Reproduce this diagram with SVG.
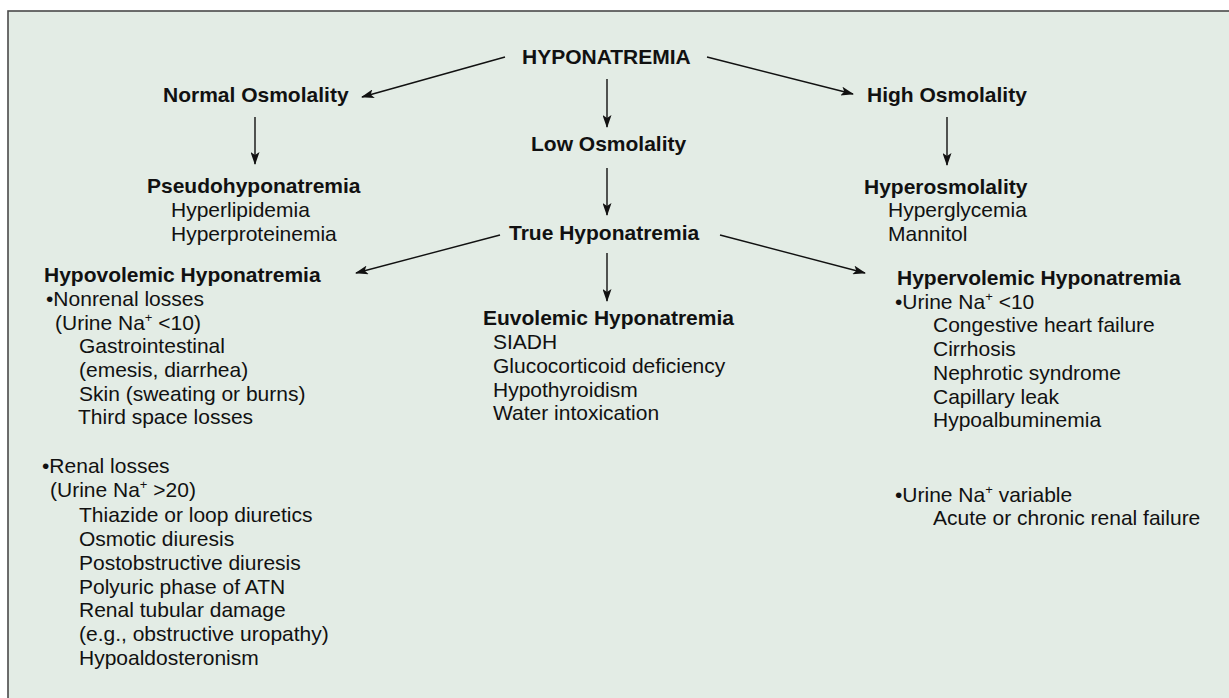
<svg xmlns="http://www.w3.org/2000/svg" width="1229" height="698" viewBox="0 0 1229 698">
<style>
text{font-family:"Liberation Sans",Arial,Helvetica,sans-serif;font-size:21px;fill:#111}
.b{font-weight:bold}
.sup{font-size:13px}
.conn line{stroke:#111;stroke-width:1.4;fill:none}
</style>
<defs>
<marker id="ah" markerWidth="13" markerHeight="9" refX="12" refY="4.5" orient="auto" markerUnits="userSpaceOnUse">
<path d="M0,0 L13,4.5 L0,9 L3,4.5 Z" fill="#111"/>
</marker>
</defs>
<rect x="0" y="0" width="1229" height="698" fill="#ffffff"/>
<rect x="8" y="11" width="1240" height="700" fill="#e3ece5" stroke="#4a4a4a" stroke-width="1.6"/>
<g class="conn">
<line x1="505" y1="57" x2="362" y2="97" marker-end="url(#ah)"/>
<line x1="707" y1="57" x2="853" y2="94" marker-end="url(#ah)"/>
<line x1="607" y1="79" x2="607" y2="127" marker-end="url(#ah)"/>
<line x1="607" y1="168" x2="607" y2="215" marker-end="url(#ah)"/>
<line x1="255" y1="117" x2="255" y2="164" marker-end="url(#ah)"/>
<line x1="947" y1="117" x2="947" y2="165" marker-end="url(#ah)"/>
<line x1="500" y1="235" x2="356" y2="273" marker-end="url(#ah)"/>
<line x1="720" y1="235" x2="865" y2="273" marker-end="url(#ah)"/>
<line x1="607" y1="253" x2="607" y2="301" marker-end="url(#ah)"/>
</g>
<g id="hyponatremia"><text class="b" x="522" y="64">HYPONATREMIA</text></g>
<g id="normal-osmolality"><text class="b" x="163" y="102">Normal Osmolality</text></g>
<g id="high-osmolality"><text class="b" x="867" y="102">High Osmolality</text></g>
<g id="low-osmolality"><text class="b" x="531" y="151">Low Osmolality</text></g>
<g id="true-hyponatremia"><text class="b" x="509" y="240">True Hyponatremia</text></g>
<g id="pseudohyponatremia">
<text class="b" x="147" y="193">Pseudohyponatremia</text>
<text x="171" y="217">Hyperlipidemia</text>
<text x="171" y="241">Hyperproteinemia</text>
</g>
<g id="hyperosmolality">
<text class="b" x="864" y="194">Hyperosmolality</text>
<text x="888" y="217">Hyperglycemia</text>
<text x="888" y="241">Mannitol</text>
</g>
<g id="hypovolemic">
<text class="b" x="44" y="282">Hypovolemic Hyponatremia</text>
<text x="46" y="306">•Nonrenal losses</text>
<text x="55" y="330">(Urine Na<tspan class="sup" dy="-8">+</tspan><tspan dy="8"> &lt;10)</tspan></text>
<text x="79" y="353">Gastrointestinal</text>
<text x="79" y="377">(emesis, diarrhea)</text>
<text x="79" y="401">Skin (sweating or burns)</text>
<text x="78" y="424">Third space losses</text>
<text x="42" y="473">•Renal losses</text>
<text x="50" y="497">(Urine Na<tspan class="sup" dy="-8">+</tspan><tspan dy="8"> &gt;20)</tspan></text>
<text x="79" y="522">Thiazide or loop diuretics</text>
<text x="79" y="546">Osmotic diuresis</text>
<text x="79" y="570">Postobstructive diuresis</text>
<text x="79" y="594">Polyuric phase of ATN</text>
<text x="79" y="617">Renal tubular damage</text>
<text x="79" y="641">(e.g., obstructive uropathy)</text>
<text x="79" y="665">Hypoaldosteronism</text>
</g>
<g id="euvolemic">
<text class="b" x="483" y="325">Euvolemic Hyponatremia</text>
<text x="493" y="349">SIADH</text>
<text x="493" y="373">Glucocorticoid deficiency</text>
<text x="493" y="397">Hypothyroidism</text>
<text x="493" y="420">Water intoxication</text>
</g>
<g id="hypervolemic">
<text class="b" x="897" y="285">Hypervolemic Hyponatremia</text>
<text x="895" y="309">•Urine Na<tspan class="sup" dy="-8">+</tspan><tspan dy="8"> &lt;10</tspan></text>
<text x="933" y="332">Congestive heart failure</text>
<text x="933" y="356">Cirrhosis</text>
<text x="933" y="380">Nephrotic syndrome</text>
<text x="933" y="404">Capillary leak</text>
<text x="933" y="427">Hypoalbuminemia</text>
<text x="895" y="502">•Urine Na<tspan class="sup" dy="-8">+</tspan><tspan dy="8"> variable</tspan></text>
<text x="933" y="525">Acute or chronic renal failure</text>
</g>
</svg>
